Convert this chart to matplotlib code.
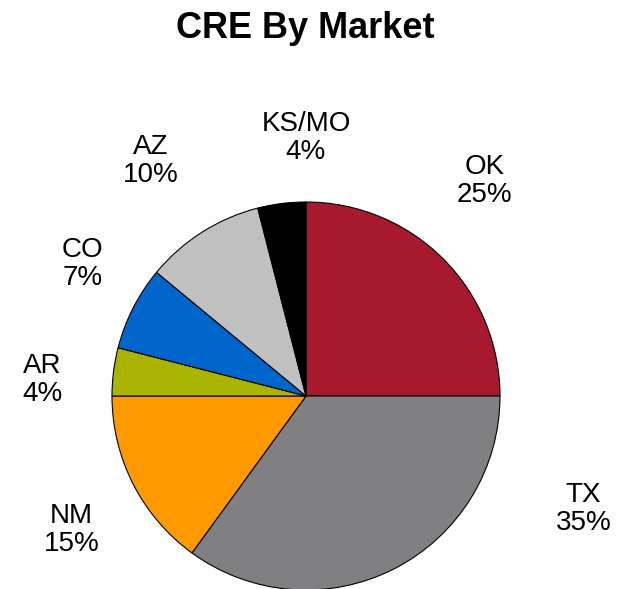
import matplotlib.pyplot as plt

# Data
markets = ["OK", "TX", "NM", "AR", "CO", "AZ", "KS/MO"]
shares = [25, 35, 15, 4, 7, 10, 4]
colors = ["#A6192E", "#808083", "#FF9900", "#A9B400", "#0066CC", "#C0C0C0", "#000000"]

# label centres in pie-radius units (Excel "best fit" placement)
label_pos = [
    (0.92, 1.11),
    (1.43, -0.58),
    (-1.21, -0.69),
    (-1.36, 0.08),
    (-1.15, 0.68),
    (-0.80, 1.21),
    (0.0, 1.33),
]

W, H = 619, 589
CX, CY, R = 306, 396, 194

plt.rcParams["font.family"] = ["Liberation Sans", "DejaVu Sans"]

fig = plt.figure(figsize=(W / 100, H / 100), dpi=100)
ax = fig.add_axes([0, 0, 1, 1])

ax.pie(
    shares,
    colors=colors,
    startangle=90,
    counterclock=False,
    radius=1,
    wedgeprops=dict(edgecolor="black", linewidth=0.8),
)

# pie() rescales the axes, so fix the view afterwards
ax.set_aspect("auto")
ax.set_xlim(-CX / R, (W - CX) / R)
ax.set_ylim(-(H - CY) / R, CY / R)
ax.axis("off")

for name, val, (lx, ly) in zip(markets, shares, label_pos):
    ax.text(lx, ly, f"{name}\n{val}%", ha="center", va="center",
            fontsize=20, linespacing=1.1)

fig.text(305 / W, 1 - 29 / H, "CRE By Market", ha="center", va="center",
         fontsize=26, fontweight="bold")

fig.savefig("out.png", dpi=100)
